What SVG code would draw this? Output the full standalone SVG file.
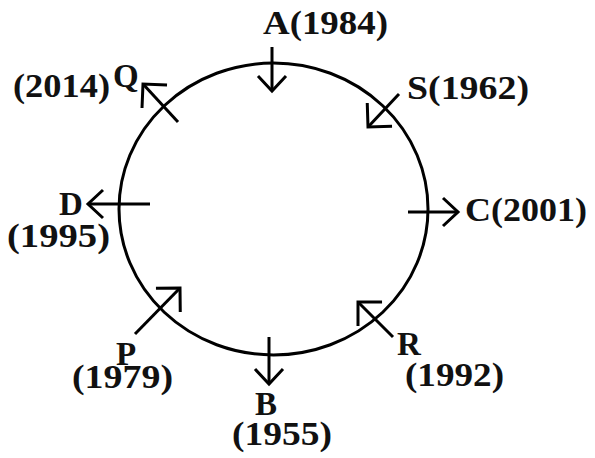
<svg xmlns="http://www.w3.org/2000/svg" width="595" height="458" viewBox="0 0 595 458">
<style>
  .lbl { font-family: "Liberation Serif", "Times New Roman", serif; font-weight: bold; font-size: 33px; fill: #111; }
  .ring { fill: none; stroke: #000; stroke-width: 3; }
  .arr { fill: none; stroke: #000; stroke-width: 3; }
  .sm { marker-end: url(#headS); }
  .lg { marker-end: url(#headL); }
</style>
<defs>
  <marker id="headS" markerUnits="userSpaceOnUse" orient="auto" refX="0" refY="0" markerWidth="40" markerHeight="40" overflow="visible">
    <path d="M-15,-14 L0,0 L-15,14" fill="none" stroke="#000" stroke-width="3"/>
  </marker>
  <marker id="headL" markerUnits="userSpaceOnUse" orient="auto" refX="0" refY="0" markerWidth="40" markerHeight="40" overflow="visible">
    <path d="M-17,-17 L0,0 L-17,17" fill="none" stroke="#000" stroke-width="3"/>
  </marker>
</defs>
<rect width="595" height="458" fill="#fff"/>
<g id="circle">
  <ellipse class="ring" cx="273.5" cy="209" rx="154.5" ry="146"/>
</g>
<g id="connectors">
  <line class="arr sm" x1="272" y1="47" x2="272" y2="91"/>
  <line class="arr lg" x1="399" y1="94" x2="368" y2="127"/>
  <line class="arr sm" x1="408" y1="212" x2="458" y2="212"/>
  <line class="arr lg" x1="393" y1="337" x2="358" y2="302"/>
  <line class="arr sm" x1="269" y1="337" x2="269" y2="384"/>
  <line class="arr lg" x1="135" y1="334" x2="180" y2="288"/>
  <line class="arr sm" x1="150" y1="204" x2="88" y2="204"/>
  <line class="arr lg" x1="178" y1="122" x2="143" y2="84"/>
</g>
<g id="node-A">
  <text class="lbl" x="263" y="34" textLength="125" lengthAdjust="spacingAndGlyphs">A(1984)</text>
</g>
<g id="node-S">
  <text class="lbl" x="407" y="99" textLength="122" lengthAdjust="spacingAndGlyphs">S(1962)</text>
</g>
<g id="node-C">
  <text class="lbl" x="465" y="221" textLength="122" lengthAdjust="spacingAndGlyphs">C(2001)</text>
</g>
<g id="node-R">
  <text class="lbl"><tspan x="397" y="355">R</tspan><tspan x="405" y="386" textLength="99" lengthAdjust="spacingAndGlyphs">(1992)</tspan></text>
</g>
<g id="node-B">
  <text class="lbl"><tspan x="255" y="415">B</tspan><tspan x="232" y="445" textLength="100" lengthAdjust="spacingAndGlyphs">(1955)</tspan></text>
</g>
<g id="node-P">
  <text class="lbl"><tspan x="116" y="365">P</tspan><tspan x="72" y="388" textLength="101" lengthAdjust="spacingAndGlyphs">(1979)</tspan></text>
</g>
<g id="node-D">
  <text class="lbl"><tspan x="59" y="215">D</tspan><tspan x="7" y="247" textLength="103" lengthAdjust="spacingAndGlyphs">(1995)</tspan></text>
</g>
<g id="node-Q">
  <text class="lbl"><tspan x="13" y="97" textLength="97" lengthAdjust="spacingAndGlyphs">(2014)</tspan><tspan x="113" y="87">Q</tspan></text>
</g>
</svg>
